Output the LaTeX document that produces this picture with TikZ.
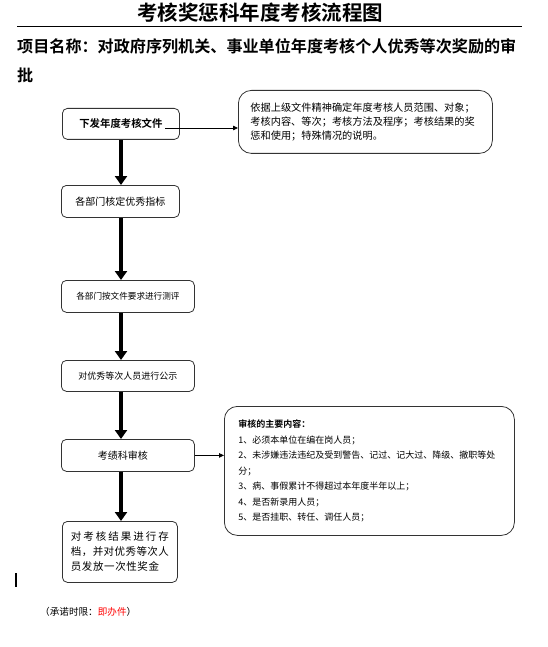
\documentclass[tikz,border=0pt]{standalone}
\usepackage{fontspec}
\setmainfont{Noto Sans CJK SC}[BoldFont={Noto Sans CJK SC Bold}]
\usetikzlibrary{arrows.meta}
\tikzset{
  box/.style={draw=black!80, line width=0.8pt, rounded corners=5pt, inner sep=0pt, align=center, anchor=north west},
  bigbox/.style={draw=black!80, line width=0.8pt, rounded corners=13pt, inner ysep=0pt, align=left, anchor=north west},
  thickarrow/.style={line width=4pt, -{Triangle[width=12pt,length=9pt]}, shorten >=0pt},
  thinarrow/.style={line width=0.8pt, -{Triangle[width=4.5pt,length=5pt]}},
}
\begin{document}
\begin{tikzpicture}[x=1pt,y=-1pt]
\useasboundingbox (0,0) rectangle (547,647);
% title
\node[font=\bfseries\fontsize{20.5}{24}\selectfont] (title) at (260,13) {考核奖惩科年度考核流程图};
\draw[line width=1pt] (17,27) -- (522,27);
\node[anchor=west, inner sep=0pt, font=\bfseries\fontsize{16.1}{20}\selectfont] (sub) at (17,46) {项目名称：对政府序列机关、事业单位年度考核个人优秀等次奖励的审};
\node[anchor=west, inner sep=0pt, font=\bfseries\fontsize{16.1}{20}\selectfont] (sub2) at (17,75) {批};
% boxes
\node[box, minimum width=117pt, minimum height=31pt, font=\bfseries\fontsize{10.4}{12}\selectfont] (b1) at (62,108) {下发年度考核文件};
\node[bigbox, minimum width=254pt, minimum height=63pt, text width=230pt, inner xsep=12pt, font=\fontsize{10.2}{14}\selectfont] (r1) at (238,90) {依据上级文件精神确定年度考核人员范围、对象；\\考核内容、等次；考核方法及程序；考核结果的奖\\惩和使用；特殊情况的说明。};
\node[box, minimum width=118pt, minimum height=32pt, font=\fontsize{10}{12}\selectfont] (b2) at (61,185) {各部门核定优秀指标};
\node[box, minimum width=133pt, minimum height=32pt, font=\fontsize{8.6}{10}\selectfont] (b3) at (61,280) {各部门按文件要求进行测评};
\node[box, minimum width=133pt, minimum height=31pt, font=\fontsize{9}{11}\selectfont] (b4) at (61,360) {对优秀等次人员进行公示};
\node[box, minimum width=133pt, minimum height=32pt, font=\fontsize{10}{12}\selectfont] (b5) at (61,439) {\hspace*{-10pt}考绩科审核};
\node[box, minimum width=115pt, minimum height=61pt, align=left, font=\fontsize{10.5}{15}\selectfont] (b6) at (62,521) {\hbox to 98pt{对\hfil 考\hfil 核\hfil 结\hfil 果\hfil 进\hfil 行\hfil 存}\\\hbox to 98pt{档\hfil ，\hfil 并\hfil 对\hfil 优\hfil 秀\hfil 等\hfil 次\hfil 人}\\\hbox to 98pt{员\hspace{0.6pt}发\hspace{0.6pt}放\hspace{0.6pt}一\hspace{0.6pt}次\hspace{0.6pt}性\hspace{0.6pt}奖\hspace{0.6pt}金\hfil}};
\node[bigbox, minimum width=284pt, minimum height=129pt, text width=262pt, inner xsep=14pt, font=\fontsize{9}{15.5}\selectfont] (r2) at (224,406) {\textbf{审核的主要内容：}\\1、必须本单位在编在岗人员；\\2、未涉嫌违法违纪及受到警告、记过、记大过、降级、撤职等处\\分；\\3、病、事假累计不得超过本年度半年以上；\\4、是否新录用人员；\\5、是否挂职、转任、调任人员；};
% connectors
\coordinate (axis) at (121,0);
\draw[thickarrow] (b1.south -| axis) -- (b2.north -| axis);
\draw[thickarrow] (b2.south -| axis) -- (b3.north -| axis);
\draw[thickarrow] (b3.south -| axis) -- (b4.north -| axis);
\draw[thickarrow] (b4.south -| axis) -- (b5.north -| axis);
\draw[thickarrow] (b5.south -| axis) -- (b6.north -| axis);
\coordinate (b1out) at (165,128);
\draw[thinarrow] (b1out) -- (b1out -| r1.west);
\draw[thinarrow] (b5.east) -- (b5.east -| r2.west);
% cursor bar
\draw[line width=2pt] (16,573) -- (16,587);
% footer
\node[anchor=west, inner sep=0pt, font=\fontsize{9.6}{12}\selectfont] (foot) at (40,612) {（承诺时限：\textcolor{red}{即办件}）};
\end{tikzpicture}
\end{document}
